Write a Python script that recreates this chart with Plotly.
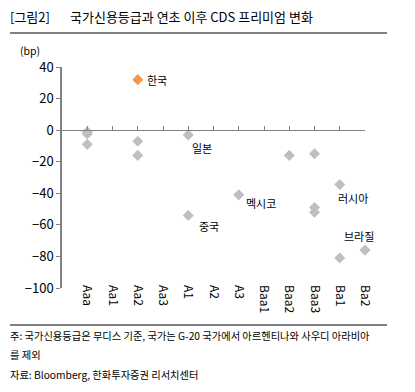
import plotly.graph_objects as go

# ---- data ----
ratings = ["Aaa", "Aa1", "Aa2", "Aa3", "A1", "A2", "A3", "Baa1", "Baa2", "Baa3", "Ba1", "Ba2"]
others_rating = ["Aaa", "Aaa", "Aaa", "Aa2", "Aa2", "A1", "A1", "A3", "Baa2", "Baa3", "Baa3", "Baa3", "Ba1", "Ba1", "Ba2"]
others_change = [-1, -2.5, -9, -7, -16, -3, -54, -41, -16, -15, -49, -52, -34.5, -81, -76]
korea_rating = ["Aa2"]
korea_change = [32]
label_names = ["일본", "중국", "멕시코", "러시아", "브라질"]
label_rating = ["A1", "A1", "A3", "Ba1", "Ba2"]
label_change = [-3, -54, -41, -34.5, -76]
y_ticks = [40, 20, 0, -20, -40, -60, -80, -100]

FONT = "Noto Sans CJK KR"
OFF = 8  # page body margin
W, H = 415 - OFF, 392 - OFF
L, R, T, B = 62 - OFF, 365 - OFF, 67 - OFF, 288 - OFF  # plot area pixels
pw, ph = R - L, B - T
y_min, y_max = -100, 40

def px(x):
    return (x - OFF - L) / pw

def py(y):
    return (B - (y - OFF)) / ph

pos = {r: i + 1 for i, r in enumerate(ratings)}

fig = go.Figure()
fig.add_trace(go.Scatter(
    x=[pos[r] for r in others_rating], y=others_change, mode="markers", cliponaxis=False,
    marker=dict(symbol="diamond", size=8.5, color="#BFBFBF", line=dict(width=0)),
    showlegend=False, hoverinfo="skip"))
fig.add_trace(go.Scatter(
    x=[pos[r] for r in korea_rating], y=korea_change, mode="markers", cliponaxis=False,
    marker=dict(symbol="diamond", size=8.5, color="#F79646", line=dict(width=0)),
    showlegend=False, hoverinfo="skip"))
# helper trace for the axis drawn at y=0
fig.add_trace(go.Scatter(x=[pos[ratings[0]]], y=[None], xaxis="x2", yaxis="y",
                         mode="markers", showlegend=False, hoverinfo="skip"))

annotations = []
offsets = {"일본": (14, -13), "중국": (21, -11), "멕시코": (22, -8), "러시아": (13, -13), "브라질": (-6, 14)}
for n, r, v in zip(label_names, label_rating, label_change):
    dx, dy = offsets[n]
    annotations.append(dict(x=pos[r], y=v, xref="x", yref="y", text=n, showarrow=False,
                            xshift=dx, yshift=dy, font=dict(family=FONT, size=11, color="#000")))
annotations.append(dict(x=pos[korea_rating[0]], y=korea_change[0], xref="x", yref="y", text="한국",
                        showarrow=False, xanchor="left", xshift=7,
                        font=dict(family=FONT, size=11, color="#000")))

def txt(x, y, s, size, anchor="left"):
    annotations.append(dict(x=px(x), y=py(y), xref="paper", yref="paper", text=s, showarrow=False,
                            xanchor=anchor, yanchor="middle", font=dict(family=FONT, size=size, color="#000")))

txt(8, 17, "[그림2]", 13)
txt(68, 17, "국가신용등급과 연초 이후 CDS 프리미엄 변화", 13)
txt(18, 50, "(bp)", 10.5)
txt(8, 335, "주: 국가신용등급은 무디스 기준, 국가는 G-20 국가에서 아르헨티나와 사우디 아라비아", 10.25)
txt(8, 354, "를 제외", 10.25)
txt(8, 374, "자료: Bloomberg, 한화투자증권 리서치센터", 10.25)

shapes = [
    dict(type="line", xref="paper", yref="paper", x0=px(10), x1=px(387), y0=py(33), y1=py(33),
         line=dict(color="#000", width=1)),
    dict(type="line", xref="paper", yref="paper", x0=px(10), x1=px(387), y0=py(325), y1=py(325),
         line=dict(color="#000", width=1)),
]

fig.update_layout(
    width=W, height=H,
    margin=dict(l=L, r=W - R, t=T, b=H - B, pad=0),
    paper_bgcolor="white", plot_bgcolor="white",
    font=dict(family=FONT, size=12, color="#000"),
    xaxis=dict(range=[0, 12], tickvals=list(pos.values()), ticktext=ratings, tickangle=90,
               ticks="", showline=False, showgrid=False, zeroline=False,
               tickfont=dict(size=12), ticklabelstandoff=-4),
    xaxis2=dict(range=[0, 12], overlaying="x", anchor="free", position=(0 - y_min) / (y_max - y_min),
                side="bottom", showline=True, linecolor="#808080", linewidth=1,
                ticks="inside", ticklen=4, tickcolor="#808080", tickvals=list(pos.values()),
                showticklabels=False, showgrid=False, zeroline=False),
    yaxis=dict(range=[y_min, y_max], tickvals=y_ticks, ticks="outside", ticklen=4,
               tickcolor="#808080", showline=True, linecolor="#808080", linewidth=1.5,
               showgrid=False, zeroline=False, tickfont=dict(size=13)),
    annotations=annotations, shapes=shapes,
)

fig.write_html("out.html")
